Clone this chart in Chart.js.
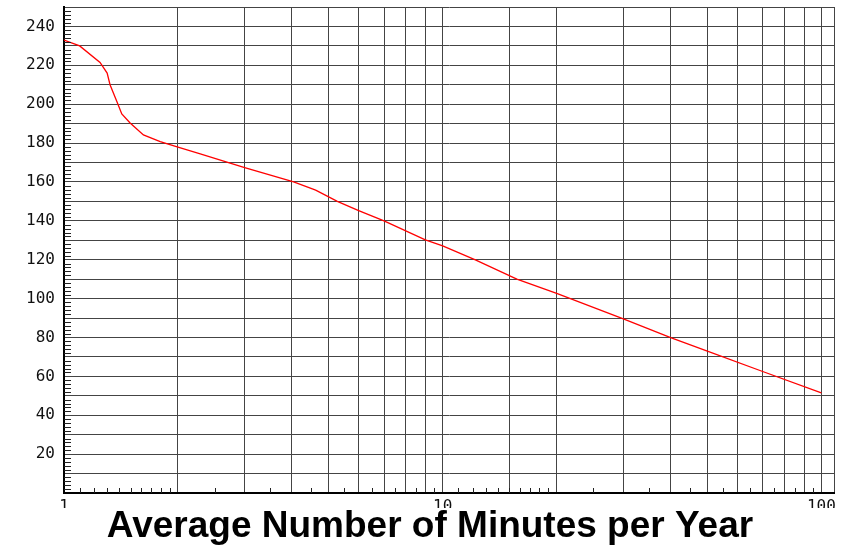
<!DOCTYPE html>
<html>
<head>
<meta charset="utf-8">
<script src="https://cdn.jsdelivr.net/npm/chart.js@4/dist/chart.umd.min.js"></script>
<style>
  html, body { margin: 0; padding: 0; background: #fff; }
  #wrap { width: 848px; height: 545px; }
</style>
</head>
<body>
<div id="wrap"><canvas id="c" width="848" height="545"></canvas></div>
<script>
// Data
const minutes = [1, 1.1, 1.245, 1.3, 1.323, 1.379, 1.421, 1.495, 1.621, 1.795, 2.0, 2.29, 3, 4.04, 4.62, 5.27, 6, 7, 9, 10, 12.2, 15.7, 20, 30, 40, 50, 70, 100];
const values  = [233, 230, 221.5, 216, 210, 201.4, 195, 190.3, 184.2, 180.8, 177.9, 174.5, 167.4, 160, 155.8, 150, 145.3, 140, 130.2, 127.1, 119.9, 110, 102.7, 89.6, 79.9, 73, 62.5, 51.5];
const xLabels = [1, 10, 100];
const yLabels = [20, 40, 60, 80, 100, 120, 140, 160, 180, 200, 220, 240];
const titleText = 'Average Number of Minutes per Year';

// minor tick values (axis decoration)
const xMinor = [];
for (let v = 1.1; v < 1.95; v += 0.1) xMinor.push(+v.toFixed(2));
for (let v = 2.5; v < 10; v += 1) xMinor.push(v);
for (let v = 11; v < 20; v += 1) xMinor.push(v);
for (let v = 25; v < 100; v += 10) xMinor.push(v);
const yMinor = [];
for (let v = 2; v < 250; v += 2) if (v % 10 !== 0) yMinor.push(v);

const minorTicks = {
  id: 'minorTicks',
  afterDatasetsDraw(chart) {
    const { ctx, chartArea: a, scales: { x, y } } = chart;
    ctx.save();
    ctx.strokeStyle = '#222';
    ctx.lineWidth = 1;
    ctx.beginPath();
    yMinor.forEach(v => {
      const p = Math.round(y.getPixelForValue(v)) + 0.5;
      ctx.moveTo(a.left, p); ctx.lineTo(a.left + 7, p);
    });
    xMinor.forEach(v => {
      const p = Math.round(x.getPixelForValue(v)) + 0.5;
      ctx.moveTo(p, a.bottom); ctx.lineTo(p, a.bottom - 5);
    });
    ctx.stroke();
    ctx.restore();
  }
};

new Chart(document.getElementById('c'), {
  type: 'line',
  data: {
    datasets: [{
      data: minutes.map((m, i) => ({ x: m, y: values[i] })),
      borderColor: '#ff0000',
      borderWidth: 1.3,
      pointRadius: 0,
      tension: 0,
      fill: false
    }]
  },
  options: {
    responsive: false,
    animation: false,
    devicePixelRatio: 1,
    layout: { padding: { top: 7, right: 14, left: 26, bottom: 0 } },
    plugins: {
      legend: { display: false },
      tooltip: { enabled: false },
      title: {
        display: true,
        position: 'bottom',
        text: titleText,
        color: '#000',
        font: { family: 'Liberation Sans, Arial, sans-serif', size: 37, weight: 'bold', lineHeight: 1.0 },
        padding: { top: 0, bottom: 0 }
      }
    },
    scales: {
      x: {
        type: 'logarithmic',
        min: 1,
        max: 108,
        afterFit: s => { s.height = 15; s.paddingLeft = 0; s.paddingRight = 0; },
        border: { display: true, color: '#000', width: 2 },
        grid: { color: '#444', lineWidth: 1, drawTicks: false },
        ticks: {
          autoSkip: false,
          maxRotation: 0,
          padding: 4,
          color: '#111',
          font: { family: 'DejaVu Sans Mono, monospace', size: 16 },
          callback: v => xLabels.includes(v) ? String(v) : ''
        }
      },
      y: {
        min: 0,
        max: 250,
        afterFit: s => { s.width = 38; s.paddingTop = 0; s.paddingBottom = 0; },
        border: { display: true, color: '#000', width: 2 },
        grid: { color: '#444', lineWidth: 1, drawTicks: false },
        ticks: {
          stepSize: 10,
          autoSkip: false,
          padding: 9,
          color: '#111',
          font: { family: 'DejaVu Sans Mono, monospace', size: 16 },
          callback: v => yLabels.includes(v) ? String(v) : ''
        }
      }
    }
  },
  plugins: [minorTicks]
});
</script>
</body>
</html>
